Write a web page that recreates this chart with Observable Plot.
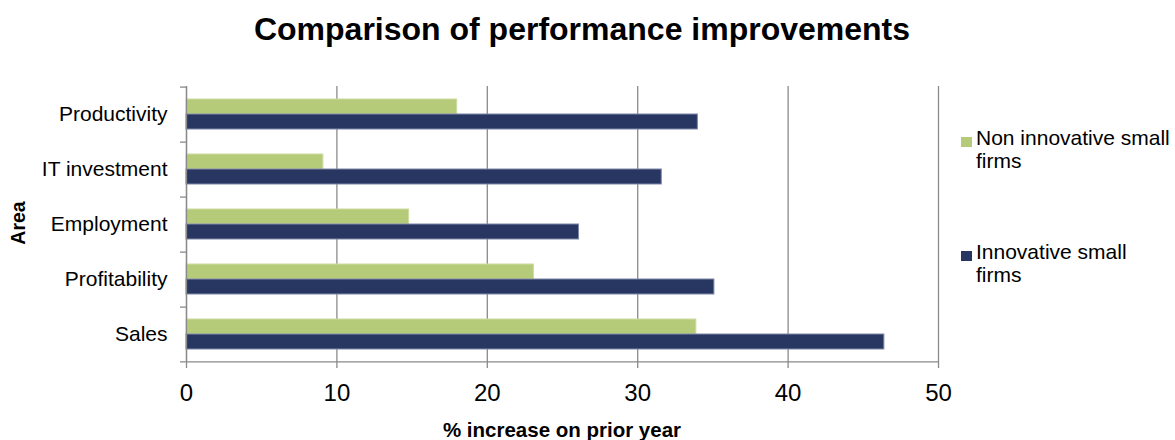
<!DOCTYPE html>
<html>
<head>
<meta charset="utf-8">
<script src="https://cdn.jsdelivr.net/npm/d3@7"></script>
<script src="https://cdn.jsdelivr.net/npm/@observablehq/plot@0.6"></script>
<style>
  html, body { margin: 0; padding: 0; background: #fff; }
  #wrap { position: relative; width: 1175px; height: 440px; font-family: "Liberation Sans", Arial, sans-serif; color: #000; }
  #chart { position: absolute; left: 0; top: 0; }
  .abs { position: absolute; white-space: nowrap; line-height: 1; }
  #title { left: 186px; width: 792px; text-align: center; top: 13px; font-size: 32px; font-weight: bold; }
  #xlabel { left: 186px; width: 752px; text-align: center; top: 420px; font-size: 20.5px; font-weight: bold; }
  #ylabel { left: 19px; top: 223px; font-size: 19.5px; font-weight: bold; transform: translate(-50%, -50%) rotate(-90deg); }
  .leg { position: absolute; left: 961px; font-size: 21px; line-height: 23.4px; }
  .leg .sw { position: absolute; left: 0; width: 11px; height: 10px; }
  .leg .tx { position: absolute; left: 15px; top: 0; white-space: nowrap; }
</style>
</head>
<body>
<div id="wrap">
  <div id="chart"></div>
  <div id="title" class="abs">Comparison of performance improvements</div>
  <div id="xlabel" class="abs">% increase on prior year</div>
  <div id="ylabel" class="abs">Area</div>
  <div id="legend"></div>
</div>
<script>
const categories = ["Productivity", "IT investment", "Employment", "Profitability", "Sales"];
const series = ["Non innovative small firms", "Innovative small firms"];
const nonInnovative = [18.0, 9.1, 14.8, 23.1, 33.9];
const innovative = [34.0, 31.6, 26.1, 35.1, 46.4];
const xTicks = [0, 10, 20, 30, 40, 50];
const colors = ["#b5cb7a", "#283662"];
const borders = ["#cddb9f", "#7e88a8"];
const legendLines = [["Non innovative small", "firms"], ["Innovative small", "firms"]];

const data = categories.flatMap((c, i) => [
  {area: c, series: series[0], value: nonInnovative[i]},
  {area: c, series: series[1], value: innovative[i]}
]);

const W = 1175, H = 440, mT = 84, mB = 77, mL = 186, mR = 237;
const outer = 0.74;
const facetH = (H - mT - mB) / categories.length;
const step = facetH / (series.length + 2 * outer);
const edge = step * (outer + 0.5);
const axisGray = "#8a8a8a";

const chart = Plot.plot({
  width: W, height: H,
  marginTop: mT, marginBottom: mB, marginLeft: mL, marginRight: mR,
  style: {fontFamily: "'Liberation Sans', Arial, sans-serif", background: "transparent", color: "#000"},
  x: {domain: [0, 50], ticks: xTicks},
  y: {domain: series, paddingInner: 0, paddingOuter: outer, axis: null},
  fy: {domain: categories, padding: 0},
  marks: [
    Plot.gridX(xTicks, {stroke: axisGray, strokeOpacity: 1, strokeWidth: 1.3}),
    Plot.barX(data.filter(d => d.series === series[0]), {fy: "area", y: "series", x: "value", fill: colors[0], stroke: borders[0], strokeWidth: 1}),
    Plot.barX(data.filter(d => d.series === series[1]), {fy: "area", y: "series", x: "value", fill: colors[1], stroke: borders[1], strokeWidth: 1}),
    Plot.ruleX([0], {stroke: axisGray, strokeWidth: 1.3}),
    Plot.ruleY(categories, {fy: d => d, y: () => series[0], x1: 0, x2: 0, insetLeft: -6, dy: -edge, stroke: axisGray, strokeWidth: 1.3}),
    Plot.ruleY([categories[categories.length - 1]], {fy: d => d, y: () => series[1], insetLeft: -6, dy: edge, stroke: axisGray, strokeWidth: 1.3}),
    Plot.axisX({anchor: "bottom", ticks: xTicks, tickSize: 7, tickPadding: 15, fontSize: 24, label: null, stroke: axisGray, strokeWidth: 1.3, fill: "#000"}),
    Plot.axisFy({anchor: "left", tickSize: 0, tickPadding: 19, fontSize: 21, label: null, fill: "#000"})
  ]
});
document.getElementById("chart").appendChild(chart);

const legendTops = [126, 240];
const legend = document.getElementById("legend");
series.forEach((s, i) => {
  const g = document.createElement("div");
  g.className = "leg";
  g.style.top = legendTops[i] + "px";
  const sw = document.createElement("div");
  sw.className = "sw";
  sw.style.background = colors[i];
  sw.style.top = "10.5px";
  const tx = document.createElement("div");
  tx.className = "tx";
  tx.innerHTML = legendLines[i].join("<br>");
  g.appendChild(sw);
  g.appendChild(tx);
  legend.appendChild(g);
});
</script>
</body>
</html>
